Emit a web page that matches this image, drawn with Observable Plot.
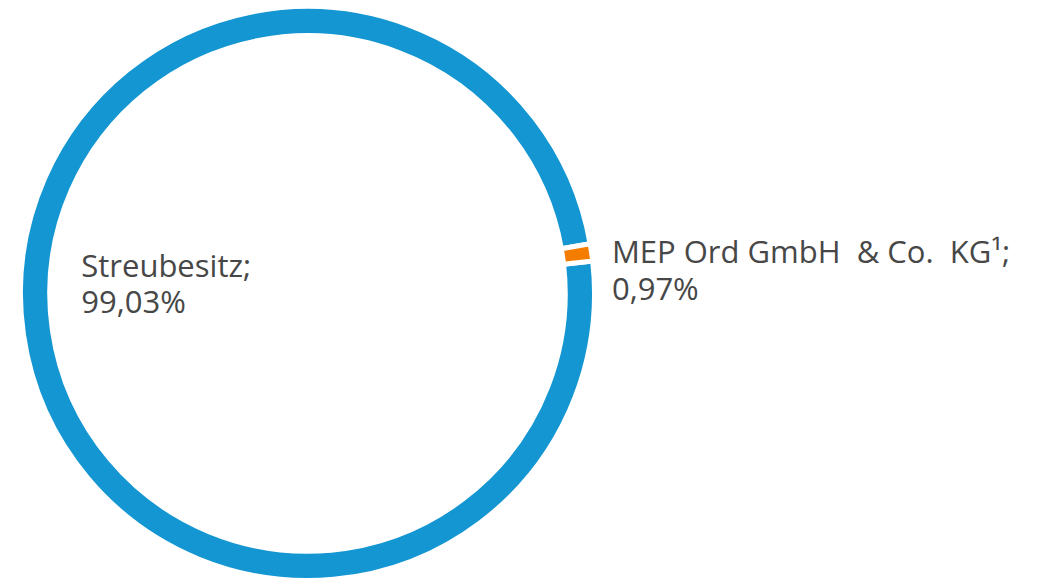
<!DOCTYPE html>
<html><head><meta charset="utf-8">
<script src="https://cdn.jsdelivr.net/npm/d3@7"></script>
<script src="https://cdn.jsdelivr.net/npm/@observablehq/plot@0.6"></script>
<style>html,body{margin:0;padding:0;background:#fff}</style>
</head><body><div id="chart"></div>
<script>
// Data
const categories = ["Streubesitz", "MEP Ord GmbH\u00a0 & Co.\u00a0 KG¹"];
const shares = [99.03, 0.97];
const valueLabels = ["99,03%", "0,97%"];
const colors = ["#1496d2", "#f47d00"];

const data = categories.map((c, i) => ({
  category: c,
  share: shares[i],
  color: colors[i],
  label: c + ";\n" + valueLabels[i]
}));

// Layout
const W = 1038, H = 580;
const cx = 307.5, cy = 293.5, R = 287;   // pixel centre / outer radius
const innerFrac = 0.898;
const startDeg = 83.5;
const toRad = Math.PI / 180;

const pie = d3.pie().value(d => d.share).sort(null)
  .startAngle(startDeg * toRad).endAngle((startDeg + 360) * toRad);
const arcs = pie(data);

function ring(index, scales) {
  const {x, y} = scales;
  const r = x(1) - x(0);
  const g = d3.create("svg:g").attr("transform", `translate(${x(0)},${y(0)})`);
  const arc = d3.arc().innerRadius(r * innerFrac).outerRadius(r);
  g.selectAll("path").data(arcs).join("path")
    .attr("d", arc)
    .attr("fill", d => d.data.color)
    .attr("stroke", "#fff")
    .attr("stroke-width", 5)
    .attr("stroke-linejoin", "miter");
  return g.node();
}

// label placement
const mepArc = arcs[1];
const mepMid = (mepArc.startAngle + mepArc.endAngle) / 2;
const labelR = 1.07;
const labelData = [
  {text: data[0].label, x: -0.79, y: 0.037},
  {text: data[1].label, x: labelR * Math.sin(mepMid), y: labelR * Math.cos(mepMid)}
];

const chart = Plot.plot({
  width: W,
  height: H,
  margin: 0,
  x: {domain: [-cx / R, (W - cx) / R], axis: null},
  y: {domain: [-(H - cy) / R, cy / R], axis: null},
  style: {background: "#fff", fontFamily: "'Open Sans', sans-serif"},
  marks: [
    ring,
    Plot.text(labelData.slice(0, 1), {
      x: "x", y: "y", text: "text", textAnchor: "start", lineAnchor: "middle",
      fontSize: 31, lineHeight: 1.15, fill: "#474747", fontFamily: "Open Sans"
    }),
    Plot.text(labelData.slice(1), {
      x: "x", y: "y", text: "text", textAnchor: "start", lineAnchor: "middle",
      fontSize: 31, lineHeight: 1.19, fill: "#474747", dy: 20, fontFamily: "Open Sans"
    })
  ]
});
document.getElementById("chart").appendChild(chart);
</script>
</body></html>
